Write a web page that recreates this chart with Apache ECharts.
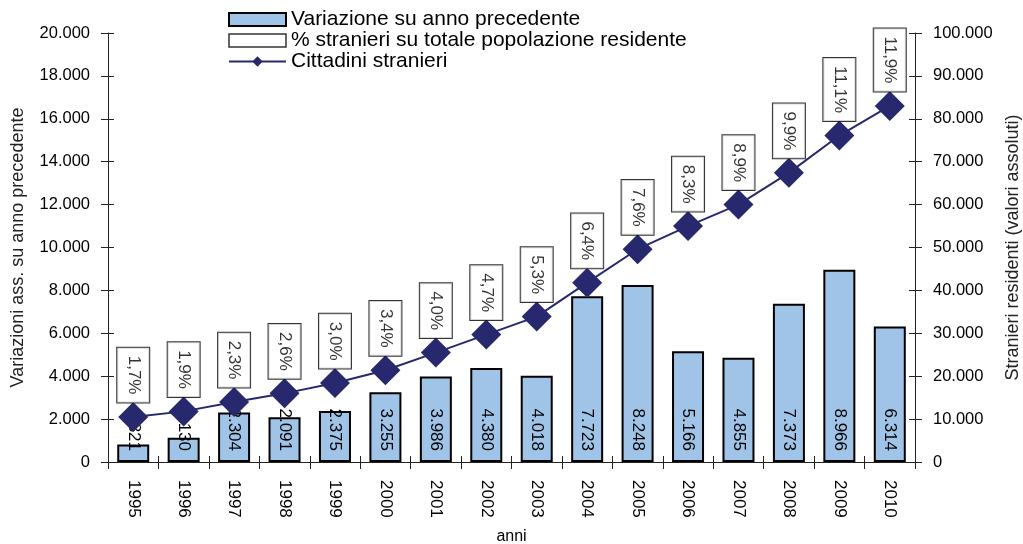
<!DOCTYPE html>
<html>
<head>
<meta charset="utf-8">
<script src="https://cdn.jsdelivr.net/npm/echarts@6/dist/echarts.min.js"></script>
<style>
  html, body { margin: 0; padding: 0; background: #fff; }
  #main { width: 1023px; height: 544px; }
</style>
</head>
<body>
<div id="main"></div>
<script>
// dati
var anni = ['1995', '1996', '1997', '1998', '1999', '2000', '2001', '2002', '2003', '2004', '2005', '2006', '2007', '2008', '2009', '2010'];
var variazione = [821, 1130, 2304, 2091, 2375, 3255, 3986, 4380, 4018, 7723, 8248, 5166, 4855, 7373, 8966, 6314];
var cittadini = [10500, 11800, 14000, 16000, 18400, 21400, 25500, 29700, 33900, 41800, 49600, 55000, 60000, 67400, 76100, 83000];
var percentuale = [1.7, 1.9, 2.3, 2.6, 3.0, 3.4, 4.0, 4.7, 5.3, 6.4, 7.6, 8.3, 8.9, 9.9, 11.1, 11.9];

var FONT = '"Liberation Sans", Arial, sans-serif';
var NAVY = '#28286f';

function migliaia(v) {
    return String(v).replace(/\B(?=(\d{3})+(?!\d))/g, '.');
}

var chartDom = document.getElementById('main');
var myChart = echarts.init(chartDom);
var option;

var tickStyle = { color: '#222', width: 1 };

option = {
    animation: false,
    textStyle: { fontFamily: FONT },
    grid: { left: 108, right: 108, top: 33, bottom: 82, outerBoundsMode: 'none' },
    legend: {
        orient: 'vertical',
        left: 223,
        top: 4,
        itemWidth: 57,
        itemHeight: 13,
        itemGap: 0,
        textStyle: { fontFamily: FONT, fontSize: 21, lineHeight: 21, color: '#000', padding: [0, 0, 0, 0] },
        data: [
            { name: 'Variazione su anno precedente', icon: 'rect' },
            { name: '% stranieri su totale popolazione residente', icon: 'rect',
              itemStyle: { color: '#fff', borderColor: '#000', borderWidth: 1.5 } },
            { name: 'Cittadini stranieri' }
        ]
    },
    xAxis: [
        {
            type: 'category',
            data: anni,
            name: 'anni',
            nameLocation: 'middle',
            nameGap: 67,
            nameTextStyle: { fontSize: 16, color: '#000' },
            axisLine: { lineStyle: tickStyle },
            axisTick: { show: true, length: 7, lineStyle: tickStyle },
            axisLabel: { rotate: -90, fontSize: 17, color: '#000', margin: 18 }
        },
        {
            type: 'category',
            data: anni,
            position: 'bottom',
            axisLine: { show: false },
            axisTick: { show: true, inside: true, length: 6, lineStyle: tickStyle },
            axisLabel: { show: false }
        }
    ],
    yAxis: [
        {
            type: 'value',
            name: 'Variazioni ass. su anno precedente',
            nameLocation: 'middle',
            nameRotate: 90,
            nameGap: 81,
            nameTextStyle: { fontSize: 18, color: '#222' },
            min: 0,
            max: 20000,
            interval: 2000,
            splitLine: { show: false },
            axisLine: { show: true, lineStyle: tickStyle },
            axisTick: { show: true, length: 7, lineStyle: tickStyle },
            axisLabel: { fontSize: 16.5, color: '#000', margin: 18, formatter: migliaia }
        },
        {
            type: 'value',
            name: 'Stranieri residenti (valori assoluti)',
            nameLocation: 'middle',
            nameRotate: 90,
            nameGap: 89,
            nameTextStyle: { fontSize: 18, color: '#222' },
            position: 'right',
            min: 0,
            max: 100000,
            interval: 10000,
            splitLine: { show: false },
            axisLine: { show: true, lineStyle: tickStyle },
            axisTick: { show: true, length: 7, lineStyle: tickStyle },
            axisLabel: { fontSize: 16.5, color: '#000', margin: 18, formatter: migliaia }
        },
        {
            type: 'value', position: 'left', min: 0, max: 20000, interval: 2000,
            splitLine: { show: false }, axisLine: { show: false }, axisLabel: { show: false },
            axisTick: { show: true, inside: true, length: 6, lineStyle: tickStyle }
        },
        {
            type: 'value', position: 'right', min: 0, max: 100000, interval: 10000,
            splitLine: { show: false }, axisLine: { show: false }, axisLabel: { show: false },
            axisTick: { show: true, inside: true, length: 6, lineStyle: tickStyle }
        }
    ],
    series: [
        {
            name: 'Variazione su anno precedente',
            type: 'bar',
            yAxisIndex: 0,
            barWidth: 32,
            data: variazione,
            itemStyle: { color: '#9fc4e8', borderColor: '#000', borderWidth: 2 },
            label: {
                show: true,
                position: 'insideBottom',
                distance: 11,
                rotate: -90,
                align: 'right',
                verticalAlign: 'middle',
                fontSize: 17,
                color: '#000',
                formatter: function (p) { return migliaia(p.value); }
            }
        },
        {
            name: '% stranieri su totale popolazione residente',
            type: 'scatter',
            yAxisIndex: 1,
            symbolSize: 1,
            itemStyle: { color: 'rgba(0,0,0,0)' },
            data: cittadini,
            z: 5,
            label: {
                show: true,
                position: 'top',
                distance: 14,
                rotate: -90,
                align: 'right',
                verticalAlign: 'middle',
                fontSize: 17,
                color: '#000',
                backgroundColor: '#fff',
                borderColor: '#000',
                borderWidth: 1,
                padding: [8, 8, 7, 8],
                formatter: function (p) {
                    return percentuale[p.dataIndex].toFixed(1).replace('.', ',') + '%';
                }
            }
        },
        {
            name: 'Cittadini stranieri',
            type: 'line',
            yAxisIndex: 1,
            data: cittadini,
            symbol: 'diamond',
            symbolSize: 30,
            z: 4,
            lineStyle: { color: NAVY, width: 2 },
            itemStyle: { color: NAVY }
        }
    ]
};

option && myChart.setOption(option);
</script>
</body>
</html>
